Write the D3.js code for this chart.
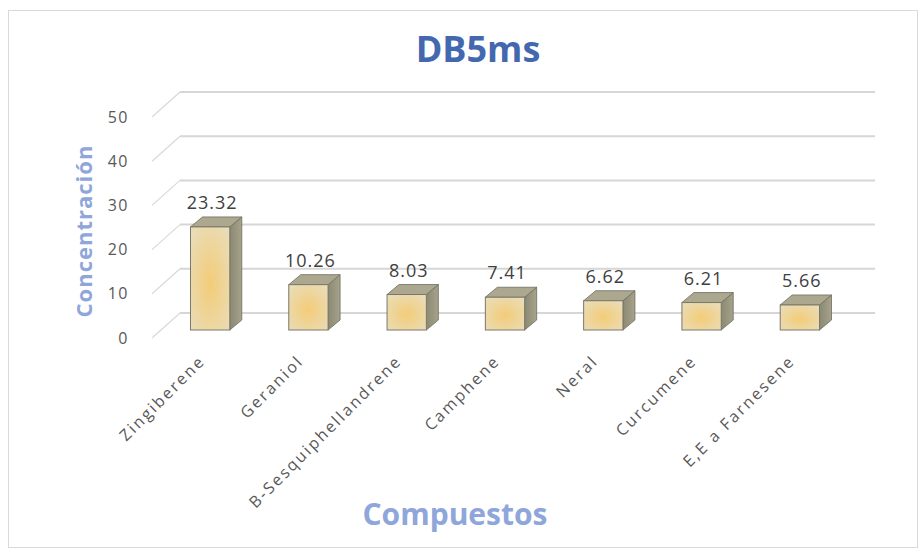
<!DOCTYPE html>
<html>
<head>
<meta charset="utf-8">
<script src="https://cdn.jsdelivr.net/npm/d3@7"></script>
<style>
  body { margin: 0; background: #fff; }
  svg { display: block; font-family: "Open Sans", sans-serif; }
</style>
</head>
<body>
<svg id="chart" width="923" height="553"></svg>
<script>
const categories = ["Zingiberene", "Geraniol", "B-Sesquiphellandrene", "Camphene", "Neral", "Curcumene", "E,E a Farnesene"];
const values = [23.32, 10.26, 8.03, 7.41, 6.62, 6.21, 5.66];
const yTicks = [0, 10, 20, 30, 40, 50];

const svg = d3.select("#chart");
const width = 923;
const height = 553;

// depth of the floor (front edge to back wall) and of each bar
const wallDx = 28, wallDy = -25;
const barDx = 12, barDy = -10;
const floorFront = 338;  // y of value 0 on the front edge
const barBase = 330;     // y of value 0 at the bar front faces

const x = d3.scaleBand()
    .domain(categories)
    .range([161, 849])
    .paddingInner(0.6)
    .paddingOuter(0.3);

const yLen = d3.scaleLinear().domain([0, 50]).range([0, 221]);

const defs = svg.append("defs");
const frontGrad = defs.append("radialGradient").attr("id", "front").attr("cx", "50%").attr("cy", "55%").attr("r", "65%");
frontGrad.append("stop").attr("offset", "0%").attr("stop-color", "#f3cc78");
frontGrad.append("stop").attr("offset", "100%").attr("stop-color", "#eadcb6");
const sideGrad = defs.append("linearGradient").attr("id", "side").attr("x1", "0").attr("x2", "1");
sideGrad.append("stop").attr("offset", "0%").attr("stop-color", "#8c8a74");
sideGrad.append("stop").attr("offset", "100%").attr("stop-color", "#a6a28b");

// chart border
svg.append("rect")
    .attr("x", 8.5).attr("y", 10.5)
    .attr("width", 909).attr("height", 537)
    .attr("fill", "#fff")
    .attr("stroke", "#d9d9d9");

// back wall gridlines + side wall diagonals
const grid = svg.append("g");
yTicks.forEach(t => {
    const yf = floorFront - yLen(t);
    const yb = yf + wallDy;
    grid.append("line")
        .attr("x1", 152 + wallDx).attr("x2", 875)
        .attr("y1", yb).attr("y2", yb)
        .attr("stroke", "#d6d6d6").attr("stroke-width", 2);
    grid.append("line")
        .attr("x1", 152).attr("x2", 152 + wallDx)
        .attr("y1", yf).attr("y2", yb)
        .attr("stroke", "#d9d9d9").attr("stroke-width", 1.2);
});

// y tick labels
svg.append("g").selectAll("text")
    .data(yTicks)
    .enter()
    .append("text")
    .attr("x", 129)
    .attr("y", d => floorFront - yLen(d))
    .attr("dy", "0.35em")
    .attr("text-anchor", "end")
    .attr("font-size", 16)
    .attr("letter-spacing", 1.5)
    .attr("fill", "#595959")
    .text(d => d);

// 3D bars
const bars = svg.append("g").selectAll("g")
    .data(values)
    .enter()
    .append("g");

bars.each(function (d, i) {
    const g = d3.select(this);
    const x0 = x(categories[i]);
    const w = x.bandwidth();
    const top = barBase - yLen(d);
    const bottom = barBase;
    g.append("polygon")
        .attr("points", [[x0 + w, bottom], [x0 + w + barDx, bottom + barDy], [x0 + w + barDx, top + barDy], [x0 + w, top]].join(" "))
        .attr("fill", "url(#side)")
        .attr("stroke", "#6f6d5e").attr("stroke-width", 0.8);
    g.append("polygon")
        .attr("points", [[x0, top], [x0 + barDx, top + barDy], [x0 + w + barDx, top + barDy], [x0 + w, top]].join(" "))
        .attr("fill", "#aca88f")
        .attr("stroke", "#6f6d5e").attr("stroke-width", 0.8);
    g.append("rect")
        .attr("x", x0).attr("y", top)
        .attr("width", w).attr("height", bottom - top)
        .attr("fill", "url(#front)")
        .attr("stroke", "#7a786a").attr("stroke-width", 1);
});

// value labels
svg.append("g").selectAll("text")
    .data(values)
    .enter()
    .append("text")
    .attr("x", (d, i) => x(categories[i]) + x.bandwidth() / 2 + 2)
    .attr("y", d => barBase - yLen(d) + barDy - 8)
    .attr("text-anchor", "middle")
    .attr("font-size", 18)
    .attr("letter-spacing", 1)
    .attr("fill", "#404040")
    .text(d => d.toFixed(2));

// category labels
svg.append("g").selectAll("text")
    .data(categories)
    .enter()
    .append("text")
    .attr("transform", d => `translate(${x(d) + x.bandwidth() / 2 - 4},${362}) rotate(-45)`)
    .attr("text-anchor", "end")
    .attr("font-size", 16)
    .attr("letter-spacing", 2.2)
    .attr("fill", "#595959")
    .text(d => d);

// titles
svg.append("text")
    .attr("x", 478).attr("y", 62)
    .attr("text-anchor", "middle")
    .attr("font-size", 36)
    .attr("font-weight", "bold")
    .attr("fill", "#4468b0")
    .text("DB5ms");

svg.append("text")
    .attr("x", 455).attr("y", 525)
    .attr("text-anchor", "middle")
    .attr("font-size", 30)
    .attr("font-weight", "bold")
    .attr("fill", "#8ea6da")
    .text("Compuestos");

svg.append("text")
    .attr("transform", "translate(92,231) rotate(-90)")
    .attr("text-anchor", "middle")
    .attr("font-size", 22)
    .attr("font-weight", "bold")
    .attr("letter-spacing", 1)
    .attr("fill", "#8ea6da")
    .text("Concentración");
</script>
</body>
</html>
